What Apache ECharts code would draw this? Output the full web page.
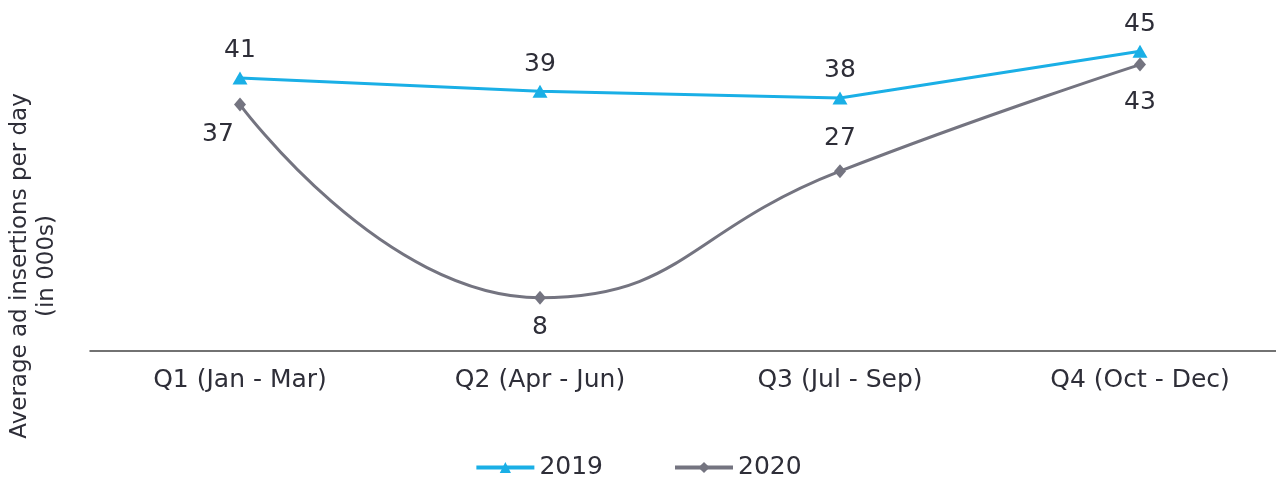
<!DOCTYPE html>
<html>
<head>
<meta charset="utf-8">
<script src="https://cdn.jsdelivr.net/npm/echarts@6/dist/echarts.min.js"></script>
<style>
  html, body { margin: 0; padding: 0; background: #fff; }
  #chart { width: 1276px; height: 478px; }
</style>
</head>
<body>
<div id="chart"></div>
<script>
const categories = ['Q1 (Jan - Mar)', 'Q2 (Apr - Jun)', 'Q3 (Jul - Sep)', 'Q4 (Oct - Dec)'];
const values2019 = [41, 39, 38, 45];
const values2020 = [37, 8, 27, 43];
const seriesNames = ['2019', '2020'];
const yTitle = ['Average ad insertions per day', '(in 000s)'];

const textColor = '#2e2e38';
const fontFamily = '"DejaVu Sans", sans-serif';
const labelSize = 25;

const chart = echarts.init(document.getElementById('chart'));

// label placement for 2020 points differs per point
const labelPos2020 = ['bottom', 'bottom', 'top', 'bottom'];
const labelOffset2020 = [[-22, 0], [0, 0], [0, -3], [0, 8]];

const option = {
  animation: false,
  grid: { left: 90, width: 1200, top: 18, bottom: 127, containLabel: false, outerBoundsMode: 'none' },
  legend: {
    top: 450,
    left: 'center',
    itemWidth: 58,
    itemHeight: 14,
    itemGap: 70,
    lineStyle: { width: 4 },
    textStyle: { color: textColor, fontSize: 25, fontFamily: fontFamily },
    data: seriesNames
  },
  xAxis: {
    type: 'category',
    data: categories,
    axisLine: { lineStyle: { color: '#444', width: 1.5 } },
    axisTick: { show: false },
    axisLabel: { color: textColor, fontSize: labelSize, fontFamily: fontFamily, margin: 17 }
  },
  yAxis: {
    type: 'value',
    min: 0,
    max: 50,
    show: false
  },
  graphic: [
    {
      type: 'text',
      rotation: Math.PI / 2,
      x: 34, y: 266,
      style: {
        text: yTitle.join('\n'),
        fill: textColor,
        font: '23px "DejaVu Sans"',
        align: 'center',
        verticalAlign: 'middle',
        lineHeight: 27
      }
    }
  ],
  series: [
    {
      name: seriesNames[0],
      type: 'line',
      data: values2019,
      symbol: 'triangle',
      symbolSize: [15, 13],
      lineStyle: { color: '#1aafe6', width: 3 },
      itemStyle: { color: '#1aafe6' },
      label: {
        show: true,
        position: 'top',
        distance: 8,
        color: textColor,
        fontSize: labelSize,
        fontFamily: fontFamily
      }
    },
    {
      name: seriesNames[1],
      type: 'line',
      data: values2020.map((v, i) => ({
        value: v,
        label: { position: labelPos2020[i], offset: labelOffset2020[i] }
      })),
      smooth: 0.5,
      symbol: 'diamond',
      symbolSize: [12, 14],
      lineStyle: { color: '#747480', width: 3 },
      itemStyle: { color: '#747480' },
      label: {
        show: true,
        distance: 10,
        color: textColor,
        fontSize: labelSize,
        fontFamily: fontFamily
      }
    }
  ]
};

chart.setOption(option);
</script>
</body>
</html>
